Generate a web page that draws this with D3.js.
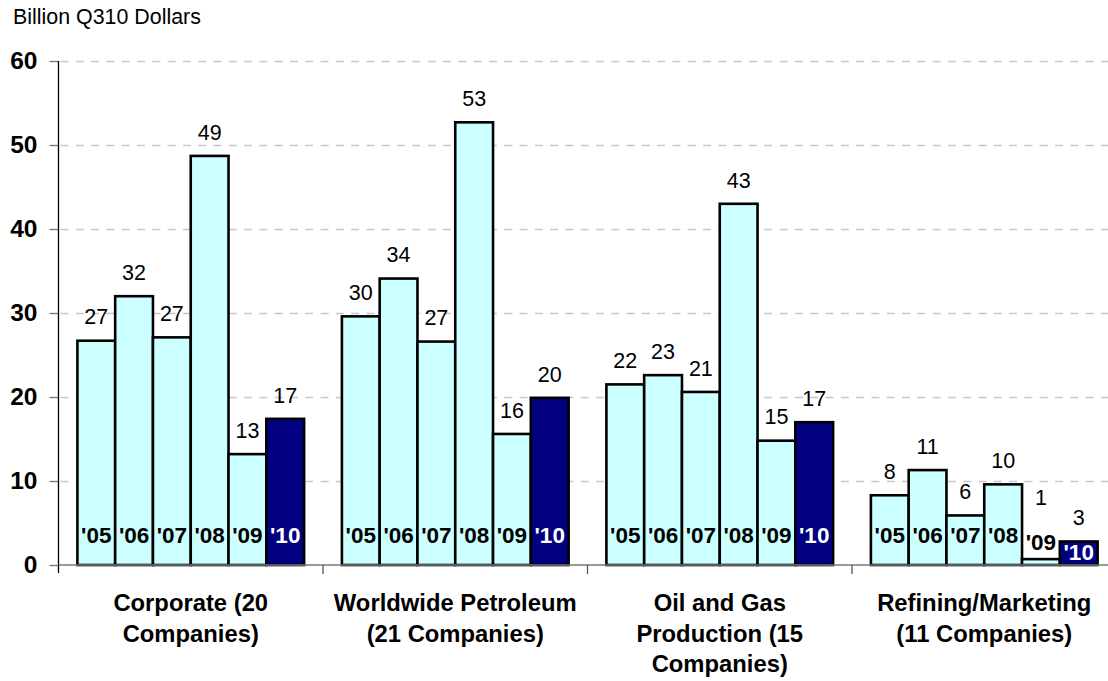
<!DOCTYPE html>
<html>
<head>
<meta charset="utf-8">
<script src="https://cdn.jsdelivr.net/npm/d3@7"></script>
<style>
  html, body { margin: 0; padding: 0; background: #fff; }
  svg { display: block; font-family: Arial, "Liberation Sans", Helvetica, sans-serif; }
</style>
</head>
<body>
<svg id="chart" width="1108" height="681"></svg>
<script>
// Capital spending by business segment, 2005-2010
const groups = [
  ["Corporate (20", "Companies)"],
  ["Worldwide Petroleum", "(21 Companies)"],
  ["Oil and Gas", "Production (15", "Companies)"],
  ["Refining/Marketing", "(11 Companies)"]
];
const years = ["'05", "'06", "'07", "'08", "'09", "'10"];
const corporate  = [26.7, 32.0, 27.1, 48.7, 13.2, 17.4];
const worldwide  = [29.6, 34.1, 26.6, 52.7, 15.6, 19.9];
const oilGas     = [21.5, 22.6, 20.6, 43.0, 14.8, 17.0];
const refining   = [8.3, 11.3, 5.9, 9.6, 0.7, 2.8];
const seriesByGroup = [corporate, worldwide, oilGas, refining];
const yTicks = [0, 10, 20, 30, 40, 50, 60];
const unitTitle = "Billion Q310 Dollars";

const svg = d3.select("#chart");
const left = 58.5, groupWidth = 264.5;
const y = d3.scaleLinear().domain([0, 60]).range([565, 61]);
const x0 = d3.scaleBand().domain(d3.range(groups.length))
  .range([left, left + groupWidth * groups.length]).padding(0);
const x1 = d3.scaleBand().domain(years).range([0, x0.bandwidth()])
  .paddingInner(0).paddingOuter(0.5);

// title
svg.append("text").attr("x", 13).attr("y", 24)
  .attr("font-size", 21.4).attr("fill", "#000").text(unitTitle);

// dashed gridlines
svg.append("g").selectAll("line").data(yTicks.filter(d => d > 0)).join("line")
  .attr("x1", left + 2).attr("x2", 1108)
  .attr("y1", d => Math.round(y(d)) + 0.5).attr("y2", d => Math.round(y(d)) + 0.5)
  .attr("stroke", "#c8c8c8").attr("stroke-width", 1.3)
  .attr("stroke-dasharray", "8,7.3");

// y axis
const yAxis = svg.append("g").attr("transform", `translate(${left},0)`)
  .call(d3.axisLeft(y).tickValues(yTicks).tickSize(9).tickPadding(12).tickFormat(d3.format("d")));
yAxis.select(".domain").remove();
yAxis.selectAll(".tick line").attr("stroke", "#777").attr("stroke-width", 1.3);
yAxis.selectAll(".tick text").attr("font-size", 24.5).attr("font-weight", "bold")
  .attr("fill", "#000").attr("font-family", "Arial, 'Liberation Sans', sans-serif");
svg.append("line").attr("x1", left).attr("x2", left).attr("y1", y(60)).attr("y2", y(0) + 8)
  .attr("stroke", "#000").attr("stroke-width", 1.3);

// bars
const groupG = svg.append("g").selectAll("g").data(seriesByGroup).join("g")
  .attr("transform", (d, i) => `translate(${x0(i)},0)`);

groupG.selectAll("rect").data(d => d.map((v, j) => ({ v, year: years[j], j }))).join("rect")
  .attr("x", d => x1(d.year))
  .attr("y", d => y(d.v))
  .attr("width", x1.bandwidth())
  .attr("height", d => y(0) - y(d.v))
  .attr("fill", d => d.j === years.length - 1 ? "#000080" : "#ccffff")
  .attr("stroke", "#000").attr("stroke-width", 2.6);

// baseline and category ticks
svg.append("line").attr("x1", left).attr("x2", 1108).attr("y1", y(0)).attr("y2", y(0))
  .attr("stroke", "#777").attr("stroke-width", 1.3);
svg.append("g").selectAll("line").data(d3.range(1, groups.length)).join("line")
  .attr("x1", i => x0(i)).attr("x2", i => x0(i))
  .attr("y1", y(0)).attr("y2", y(0) + 9)
  .attr("stroke", "#555").attr("stroke-width", 1.3);

// year labels sit at the bar base; short bars push them up
function yearCenter(v) {
  const h = y(0) - y(v);
  if (h >= 30) return 535;
  if (h >= 15) return y(0) - 13;
  return y(v) - 17;
}
function valueCenter(v) {
  const h = y(0) - y(v);
  if (h >= 30) return y(v) - 24;
  if (h >= 15) return Math.min(y(v) - 24, yearCenter(v) - 35);
  return yearCenter(v) - 45;
}

groupG.selectAll("text.year").data(d => d.map((v, j) => ({ v, year: years[j], j }))).join("text")
  .attr("class", "year")
  .attr("x", d => x1(d.year) + x1.bandwidth() / 2)
  .attr("y", d => yearCenter(d.v))
  .attr("dy", "0.36em")
  .attr("text-anchor", "middle")
  .attr("font-size", 22.5).attr("font-weight", "bold")
  .attr("fill", d => d.j === years.length - 1 ? "#fff" : "#000")
  .text(d => d.year);

groupG.selectAll("text.val").data(d => d.map((v, j) => ({ v, year: years[j], j }))).join("text")
  .attr("class", "val")
  .attr("x", d => x1(d.year) + x1.bandwidth() / 2)
  .attr("y", d => valueCenter(d.v))
  .attr("dy", "0.36em")
  .attr("text-anchor", "middle")
  .attr("font-size", 21.5).attr("fill", "#000")
  .text(d => d3.format(".0f")(d.v));

// category labels
const cat = svg.append("g").selectAll("text").data(groups).join("text")
  .attr("x", (d, i) => x0(i) + x0.bandwidth() / 2)
  .attr("y", 611)
  .attr("text-anchor", "middle")
  .attr("font-size", 23.8).attr("font-weight", "bold").attr("fill", "#000");
cat.selectAll("tspan").data(d => d).join("tspan")
  .attr("x", function () { return d3.select(this.parentNode).attr("x"); })
  .attr("dy", (d, k) => k === 0 ? 0 : 30.5)
  .text(d => d);
</script>
</body>
</html>
